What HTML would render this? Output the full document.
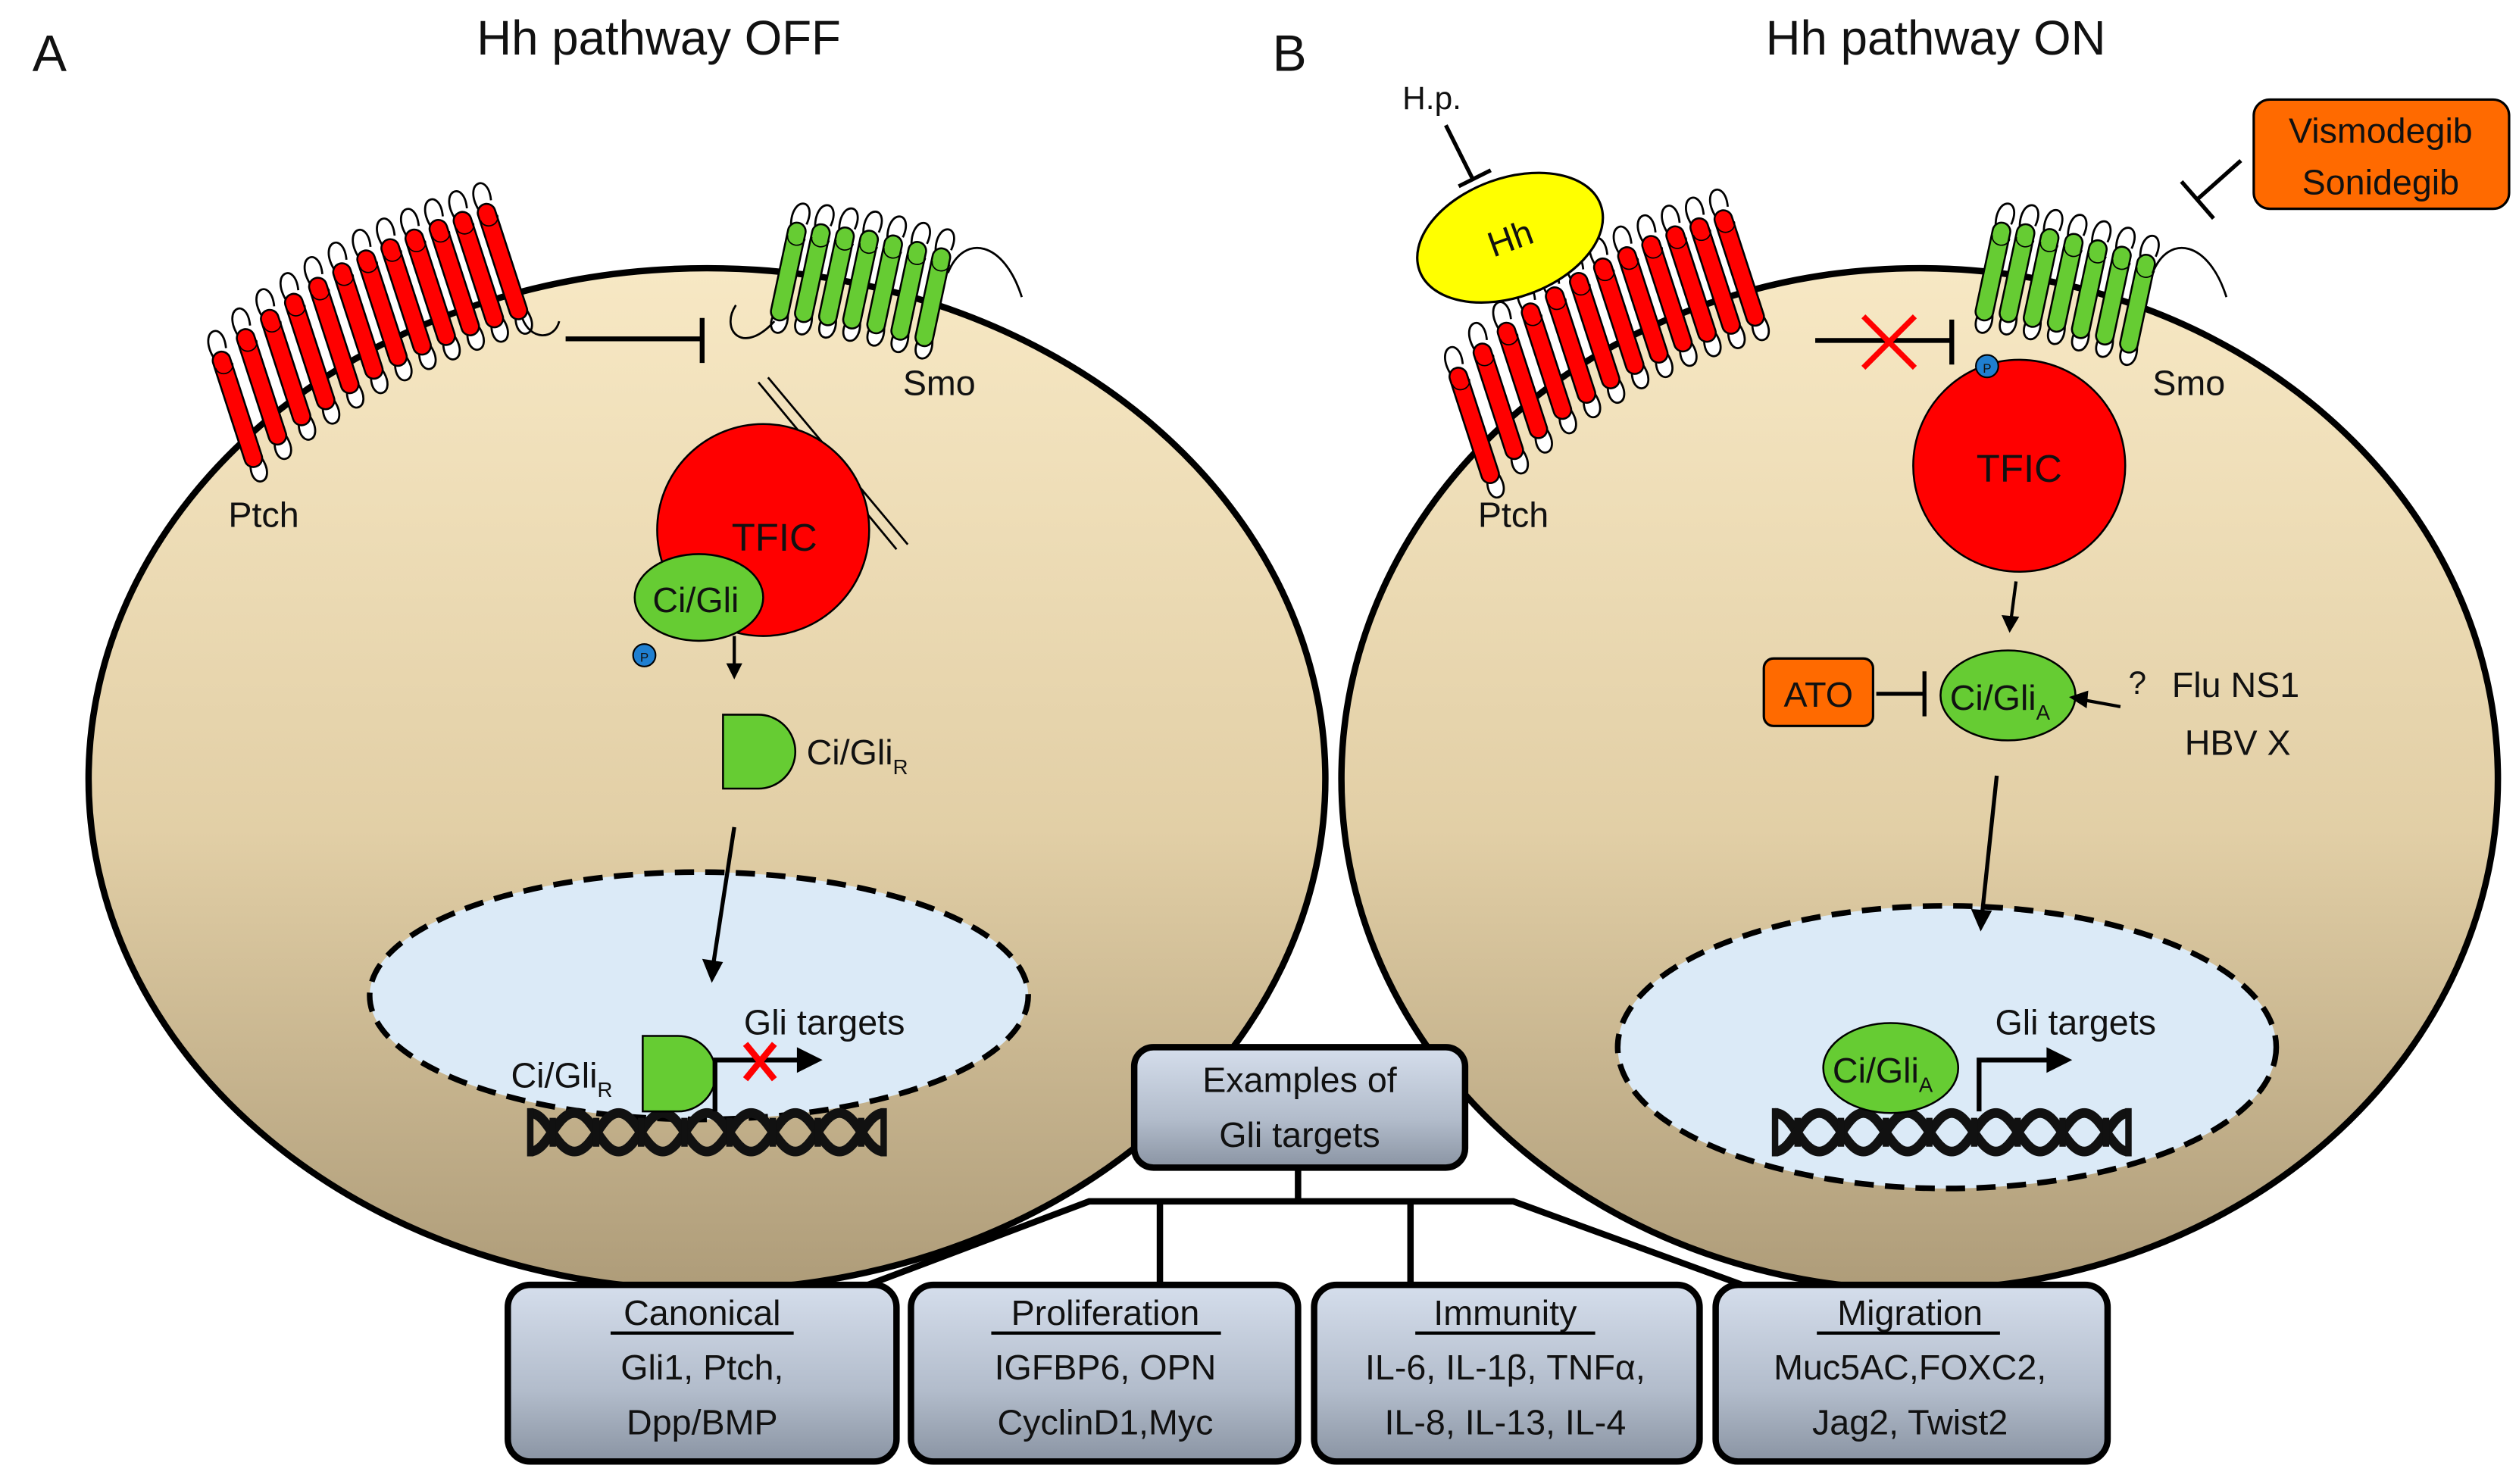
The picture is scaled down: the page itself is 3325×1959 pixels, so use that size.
<!DOCTYPE html>
<html><head><meta charset="utf-8"><style>
html,body{margin:0;padding:0;background:#fff;}
svg{display:block;}
text{font-family:"Liberation Sans",sans-serif;fill:#111;}
</style></head><body>
<svg width="3325" height="1959" viewBox="0 0 1568 924" xmlns="http://www.w3.org/2000/svg">
<defs>
<linearGradient id="cell" x1="0" y1="0" x2="0" y2="1">
<stop offset="0" stop-color="#f7e8c4"/><stop offset="0.55" stop-color="#e2cfa6"/><stop offset="1" stop-color="#ae9c79"/>
</linearGradient>
<linearGradient id="box" x1="0" y1="0" x2="0" y2="1">
<stop offset="0" stop-color="#d5deec"/><stop offset="0.6" stop-color="#b2bccb"/><stop offset="1" stop-color="#8a94a3"/>
</linearGradient>
<g id="hr"><path d="M-4,-42 C-9,-62 9,-64 5,-46" fill="#fff" stroke="#000" stroke-width="1.3"/><path d="M-3,28 C-8,44 10,44 5,26" fill="#fff" stroke="#000" stroke-width="1.3"/><rect x="-5.5" y="-45" width="11" height="75" rx="5.5" fill="#f00" stroke="#000" stroke-width="1.2"/><path d="M-5,-36 a5.5,5 0 0 0 11,0" fill="none" stroke="#000" stroke-width="0.8"/></g>
<g id="hg"><path d="M-4,-30 C-9,-50 9,-52 5,-34" fill="#fff" stroke="#000" stroke-width="1.3"/><path d="M-3,24 C-8,40 10,40 5,22" fill="#fff" stroke="#000" stroke-width="1.3"/><rect x="-5.5" y="-34" width="11" height="62" rx="5.5" fill="#6c3" stroke="#000" stroke-width="1.2"/><path d="M-5,-25 a5.5,5 0 0 0 11,0" fill="none" stroke="#000" stroke-width="0.8"/></g>
<g id="dna" fill="none" stroke="#111" stroke-width="6">
<path d="M330,693 C341,693 346,717 357.5,717 S374,693 385,693 S401.5,717 412.5,717 S429,693 440,693 S456.5,717 467.5,717 S484,693 495,693 S511.5,717 522.5,717 S539,693 550,693"/>
<path d="M330,717 C341,717 346,693 357.5,693 S374,717 385,717 S401.5,693 412.5,693 S429,717 440,717 S456.5,693 467.5,693 S484,717 495,717 S511.5,693 522.5,693 S539,717 550,717"/>
<path d="M330,690V720M550,690V720M344,696V714M371,696V714M399,696V714M426,696V714M454,696V714M481,696V714M509,696V714M536,696V714" stroke-width="4"/>
</g>
</defs>

<!-- cells -->
<ellipse cx="440" cy="485" rx="385" ry="318" fill="url(#cell)" stroke="#000" stroke-width="4"/>
<ellipse cx="1195" cy="485" rx="360" ry="318" fill="url(#cell)" stroke="#000" stroke-width="4"/>

<text x="20" y="44" font-size="32">A</text>
<text x="410" y="34" font-size="30" text-anchor="middle">Hh pathway OFF</text>
<text x="792" y="44" font-size="32">B</text>
<text x="1205" y="34" font-size="30" text-anchor="middle">Hh pathway ON</text>

<!-- left receptors -->
<g>
<use href="#hr" transform="translate(150,262) rotate(-18)"/><use href="#hr" transform="translate(165,248) rotate(-18)"/><use href="#hr" transform="translate(180,236) rotate(-18)"/><use href="#hr" transform="translate(195,226) rotate(-18)"/><use href="#hr" transform="translate(210,216) rotate(-18)"/><use href="#hr" transform="translate(225,207) rotate(-18)"/><use href="#hr" transform="translate(240,199) rotate(-18)"/><use href="#hr" transform="translate(255,192) rotate(-18)"/><use href="#hr" transform="translate(270,186) rotate(-18)"/><use href="#hr" transform="translate(285,180) rotate(-18)"/><use href="#hr" transform="translate(300,175) rotate(-18)"/><use href="#hr" transform="translate(315,170) rotate(-18)"/>
</g>
<path d="M325,198 C330,212 345,212 348,200" fill="none" stroke="#000" stroke-width="1.3"/>
<g>
<use href="#hg" transform="translate(490,172) rotate(12)"/><use href="#hg" transform="translate(505,173) rotate(12)"/><use href="#hg" transform="translate(520,175) rotate(12)"/><use href="#hg" transform="translate(535,177) rotate(12)"/><use href="#hg" transform="translate(550,180) rotate(12)"/><use href="#hg" transform="translate(565,184) rotate(12)"/><use href="#hg" transform="translate(580,188) rotate(12)"/>
</g>
<path d="M458,190 C448,205 462,222 482,200" fill="none" stroke="#000" stroke-width="1.3"/>
<path d="M590,170 C600,145 625,150 636,185" fill="none" stroke="#000" stroke-width="1.3"/>
<text x="142" y="328" font-size="22">Ptch</text>
<text x="562" y="246" font-size="22">Smo</text>
<path d="M352,211 H437 M437,198 V226" stroke="#000" stroke-width="3" fill="none"/>

<path d="M472,238 L558,342 M478,235 L565,339" stroke="#000" stroke-width="1.3"/>
<circle cx="475" cy="330" r="66" fill="#f00" stroke="#000" stroke-width="1.2"/>
<text x="482" y="343" font-size="24" text-anchor="middle">TFIC</text>
<ellipse cx="435" cy="372" rx="40" ry="27" fill="#6c3" stroke="#000" stroke-width="1.2"/>
<text x="433" y="381" font-size="22" text-anchor="middle">Ci/Gli</text>
<circle cx="401" cy="408" r="7" fill="#1f7fd0" stroke="#000" stroke-width="1"/>
<text x="401" y="412" font-size="8" text-anchor="middle">P</text>
<line x1="457" y1="396" x2="457" y2="414" stroke="#000" stroke-width="2"/>
<path d="M452,413 L457,423 L462,413Z" fill="#000"/>
<path d="M450,445 H472 A23,23 0 0 1 472,491 H450 Z" fill="#6c3" stroke="#000" stroke-width="1.2"/>
<text x="502" y="476" font-size="22">Ci/Gli<tspan font-size="13" dy="6">R</tspan></text>

<ellipse cx="435" cy="620" rx="205" ry="77" fill="#dbeaf7" stroke="#000" stroke-width="3.5" stroke-dasharray="12,7"/>
<line x1="457" y1="515" x2="444" y2="600" stroke="#000" stroke-width="2.5"/>
<path d="M437,597 L443,612 L450,599Z" fill="#000"/>
<use href="#dna"/>
<path d="M400,645 H422 A23,23 0 0 1 422,692 H400 Z" fill="#6c3" stroke="#000" stroke-width="1.2"/>
<text x="318" y="677" font-size="22">Ci/Gli<tspan font-size="13" dy="6">R</tspan></text>
<path d="M445,692 V660 H498" fill="none" stroke="#000" stroke-width="3"/>
<path d="M496,652 L512,660 L496,668Z" fill="#000"/>
<path d="M464,650 L482,672 M482,650 L464,672" stroke="#f00" stroke-width="4"/>
<text x="463" y="644" font-size="22">Gli targets</text>

<!-- right -->
<text x="873" y="68" font-size="20">H.p.</text>
<path d="M900,78 L917,112 M908,116 L928,106" stroke="#000" stroke-width="2.5" fill="none"/>
<g>
<use href="#hr" transform="translate(920,272) rotate(-18)"/><use href="#hr" transform="translate(935,257) rotate(-18)"/><use href="#hr" transform="translate(950,244) rotate(-18)"/><use href="#hr" transform="translate(965,232) rotate(-18)"/><use href="#hr" transform="translate(980,222) rotate(-18)"/><use href="#hr" transform="translate(995,213) rotate(-18)"/><use href="#hr" transform="translate(1010,204) rotate(-18)"/><use href="#hr" transform="translate(1025,197) rotate(-18)"/><use href="#hr" transform="translate(1040,190) rotate(-18)"/><use href="#hr" transform="translate(1055,184) rotate(-18)"/><use href="#hr" transform="translate(1070,179) rotate(-18)"/><use href="#hr" transform="translate(1085,174) rotate(-18)"/>
</g>
<ellipse cx="940" cy="148" rx="60" ry="37" transform="rotate(-20 940 148)" fill="#ff0" stroke="#000" stroke-width="1.5"/>
<text x="940" y="156" font-size="22" text-anchor="middle" transform="rotate(-20 940 148)">Hh</text>
<g>
<use href="#hg" transform="translate(1240,172) rotate(12)"/><use href="#hg" transform="translate(1255,173) rotate(12)"/><use href="#hg" transform="translate(1270,176) rotate(12)"/><use href="#hg" transform="translate(1285,179) rotate(12)"/><use href="#hg" transform="translate(1300,183) rotate(12)"/><use href="#hg" transform="translate(1315,187) rotate(12)"/><use href="#hg" transform="translate(1330,192) rotate(12)"/>
</g>
<path d="M1340,170 C1350,145 1375,150 1386,185" fill="none" stroke="#000" stroke-width="1.3"/>
<text x="920" y="328" font-size="22">Ptch</text>
<text x="1340" y="246" font-size="22">Smo</text>
<path d="M1130,212 H1215 M1215,199 V227" stroke="#000" stroke-width="3" fill="none"/>
<path d="M1160,197 L1192,229 M1192,197 L1160,229" stroke="#f00" stroke-width="3.5"/>
<rect x="1403" y="62" width="159" height="68" rx="10" fill="#ff6a00" stroke="#000" stroke-width="1.5"/>
<text x="1482" y="89" font-size="22" text-anchor="middle">Vismodegib</text>
<text x="1482" y="121" font-size="22" text-anchor="middle">Sonidegib</text>
<path d="M1395,100 L1368,124 M1358,113 L1378,136" stroke="#000" stroke-width="2.5" fill="none"/>
<circle cx="1257" cy="290" r="66" fill="#f00" stroke="#000" stroke-width="1.2"/>
<circle cx="1237" cy="228" r="7" fill="#1f7fd0" stroke="#000" stroke-width="1"/>
<text x="1237" y="232" font-size="8" text-anchor="middle">P</text>
<text x="1257" y="300" font-size="24" text-anchor="middle">TFIC</text>
<line x1="1255" y1="362" x2="1252" y2="385" stroke="#000" stroke-width="2"/>
<path d="M1246,383 L1251,394 L1257,384Z" fill="#000"/>
<ellipse cx="1250" cy="433" rx="42" ry="28" fill="#6c3" stroke="#000" stroke-width="1.2"/>
<text x="1245" y="442" font-size="22" text-anchor="middle">Ci/Gli<tspan font-size="13" dy="6">A</tspan></text>
<rect x="1098" y="410" width="68" height="42" rx="6" fill="#ff6a00" stroke="#000" stroke-width="1.5"/>
<text x="1132" y="440" font-size="22" text-anchor="middle">ATO</text>
<path d="M1168,432 H1198 M1198,418 V446" stroke="#000" stroke-width="2.5" fill="none"/>
<text x="1325" y="432" font-size="20">?</text>
<text x="1352" y="434" font-size="22">Flu NS1</text>
<text x="1360" y="470" font-size="22">HBV X</text>
<line x1="1320" y1="440" x2="1298" y2="436" stroke="#000" stroke-width="2"/>
<path d="M1300,430 L1288,434 L1299,441Z" fill="#000"/>
<ellipse cx="1212" cy="652" rx="205" ry="88" fill="#dbeaf7" stroke="#000" stroke-width="3.5" stroke-dasharray="12,7"/>
<line x1="1243" y1="483" x2="1234" y2="568" stroke="#000" stroke-width="2.5"/>
<path d="M1227,566 L1233,580 L1240,567Z" fill="#000"/>
<use href="#dna" transform="translate(775,0)"/>
<ellipse cx="1177" cy="665" rx="42" ry="28" fill="#6c3" stroke="#000" stroke-width="1.2"/>
<text x="1172" y="674" font-size="22" text-anchor="middle">Ci/Gli<tspan font-size="13" dy="6">A</tspan></text>
<path d="M1232,692 V660 H1276" fill="none" stroke="#000" stroke-width="3"/>
<path d="M1274,652 L1290,660 L1274,668Z" fill="#000"/>
<text x="1242" y="644" font-size="22">Gli targets</text>

<!-- tree -->
<path d="M808,727 V748 M535,802 L678,748 H942 L1090,802 M722,748 V802 M878,748 V802" stroke="#000" stroke-width="4" fill="none"/>
<rect x="706" y="652" width="206" height="75" rx="12" fill="url(#box)" stroke="#000" stroke-width="4"/>
<text x="809" y="680" font-size="22" text-anchor="middle">Examples of</text>
<text x="809" y="714" font-size="22" text-anchor="middle">Gli targets</text>

<g font-size="22" text-anchor="middle">
<rect x="316" y="800" width="242" height="110" rx="14" fill="url(#box)" stroke="#000" stroke-width="4"/>
<text x="437" y="825">Canonical</text><line x1="380" y1="830" x2="494" y2="830" stroke="#000" stroke-width="2"/>
<text x="437" y="859">Gli1, Ptch,</text><text x="437" y="893">Dpp/BMP</text>
<rect x="567" y="800" width="241" height="110" rx="14" fill="url(#box)" stroke="#000" stroke-width="4"/>
<text x="688" y="825">Proliferation</text><line x1="617" y1="830" x2="760" y2="830" stroke="#000" stroke-width="2"/>
<text x="688" y="859">IGFBP6, OPN</text><text x="688" y="893">CyclinD1,Myc</text>
<rect x="818" y="800" width="240" height="110" rx="14" fill="url(#box)" stroke="#000" stroke-width="4"/>
<text x="937" y="825">Immunity</text><line x1="881" y1="830" x2="993" y2="830" stroke="#000" stroke-width="2"/>
<text x="937" y="859">IL-6, IL-1β, TNFα,</text><text x="937" y="893">IL-8, IL-13, IL-4</text>
<rect x="1068" y="800" width="244" height="110" rx="14" fill="url(#box)" stroke="#000" stroke-width="4"/>
<text x="1189" y="825">Migration</text><line x1="1131" y1="830" x2="1245" y2="830" stroke="#000" stroke-width="2"/>
<text x="1189" y="859">Muc5AC,FOXC2,</text><text x="1189" y="893">Jag2, Twist2</text>
</g>
</svg>
</body></html>
